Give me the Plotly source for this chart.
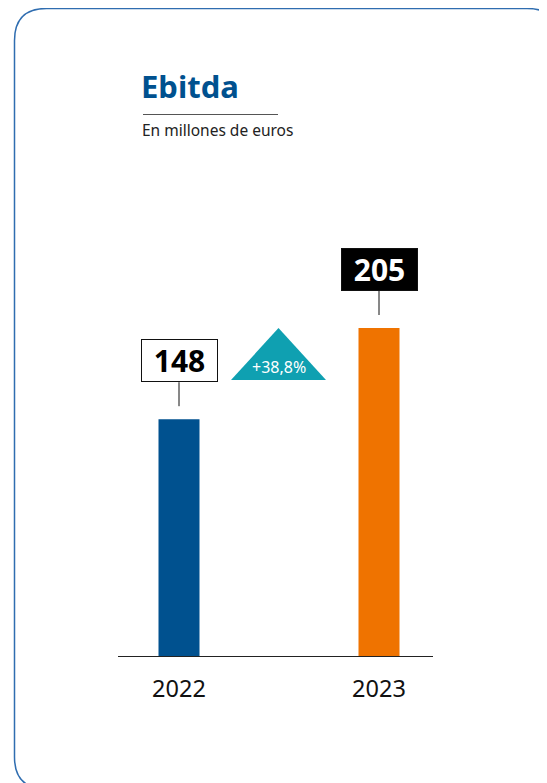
import plotly.graph_objects as go

# data
years = ["2022", "2023"]
ebitda = [148, 205]
bar_colors = ["#00518f", "#ef7300"]
change_label = "+38,8%"

# page body has an 8px margin; coordinates below are in window pixels
OFF = 8
W, H = 547 - OFF, 783 - OFF
L, R, T, B = 118 - OFF, 114, 0, 127
PW, PH = W - L - R, H - T - B


def px(x):
    return (x - OFF - L) / PW


def py(y):
    return (H - B - (y - OFF)) / PH


def border_path(x0, y0, x1, y1, r):
    pts = [
        f"M {px(x0 + r)},{py(y0)}",
        f"L {px(x1 - r)},{py(y0)}",
        f"Q {px(x1)},{py(y0)} {px(x1)},{py(y0 + r)}",
        f"L {px(x1)},{py(y1 - r)}",
        f"Q {px(x1)},{py(y1)} {px(x1 - r)},{py(y1)}",
        f"L {px(x0 + r)},{py(y1)}",
        f"Q {px(x0)},{py(y1)} {px(x0)},{py(y1 - r)}",
        f"L {px(x0)},{py(y0 + r)}",
        f"Q {px(x0)},{py(y0)} {px(x0 + r)},{py(y0)}",
        "Z",
    ]
    return " ".join(pts)


xs = list(range(len(years)))

fig = go.Figure()

fig.add_trace(
    go.Bar(
        x=xs,
        y=ebitda,
        width=0.205,
        marker=dict(color=bar_colors, line=dict(width=0)),
        hoverinfo="skip",
    )
)

shapes = []
annotations = []

# rounded frame
shapes.append(
    dict(
        type="path",
        xref="paper",
        yref="paper",
        path=border_path(14.5, 8.5, 559, 789, 32),
        line=dict(color="#2f6db0", width=1.5),
        layer="below",
    )
)

# title underline
shapes.append(
    dict(
        type="line",
        xref="paper",
        yref="paper",
        x0=px(143),
        x1=px(278),
        y0=py(114.5),
        y1=py(114.5),
        line=dict(color="#555555", width=1),
    )
)

# value labels with connectors
for i, v in enumerate(ebitda):
    dark = i == 1
    shapes.append(
        dict(
            type="line",
            xref="x",
            yref="y",
            ysizemode="pixel",
            yanchor=v,
            x0=i,
            x1=i,
            y0=13,
            y1=37,
            line=dict(color="#111111", width=1),
        )
    )
    annotations.append(
        dict(
            x=i,
            y=v,
            xref="x",
            yref="y",
            text=f"<b>{v}</b>",
            showarrow=False,
            yshift=59,
            width=75,
            height=41,
            borderwidth=1,
            borderpad=0,
            bordercolor="#111111",
            bgcolor="#000000" if dark else "#ffffff",
            font=dict(size=30, color="#ffffff" if dark else "#000000",
                      family="Noto Sans"),
        )
    )

# change triangle
shapes.append(
    dict(
        type="path",
        xref="paper",
        yref="paper",
        path=f"M {px(231)},{py(380)} L {px(278.5)},{py(328)} L {px(326)},{py(380)} Z",
        fillcolor="#0fa0b1",
        line=dict(width=0),
    )
)
annotations.append(
    dict(
        x=px(278.5),
        y=py(367),
        xref="paper",
        yref="paper",
        text=change_label,
        showarrow=False,
        font=dict(size=16, color="#ffffff", family="Noto Sans"),
    )
)

# title block
annotations.append(
    dict(
        x=px(139),
        y=py(86),
        xref="paper",
        yref="paper",
        xanchor="left",
        yanchor="middle",
        text="<b>Ebitda</b>",
        showarrow=False,
        font=dict(size=31, color="#00518f", family="Noto Sans"),
    )
)
annotations.append(
    dict(
        x=px(140),
        y=py(130),
        xref="paper",
        yref="paper",
        xanchor="left",
        yanchor="middle",
        text="En millones de euros",
        showarrow=False,
        font=dict(size=15.5, color="#222222", family="Noto Sans"),
    )
)

fig.update_layout(
    width=W,
    height=H,
    margin=dict(l=L, r=R, t=T, b=B),
    paper_bgcolor="#ffffff",
    plot_bgcolor="#ffffff",
    showlegend=False,
    shapes=shapes,
    annotations=annotations,
    xaxis=dict(
        range=[-0.305, 1.27],
        tickvals=xs,
        ticktext=years,
        showline=True,
        linecolor="#222222",
        linewidth=1,
        showgrid=False,
        zeroline=False,
        ticks="outside",
        ticklen=12,
        tickcolor="rgba(0,0,0,0)",
        tickfont=dict(size=23.5, color="#111111", family="Noto Sans"),
        fixedrange=True,
    ),
    yaxis=dict(
        range=[0, PH / 1.6],
        visible=False,
        fixedrange=True,
    ),
)

fig.write_html("out.html")
